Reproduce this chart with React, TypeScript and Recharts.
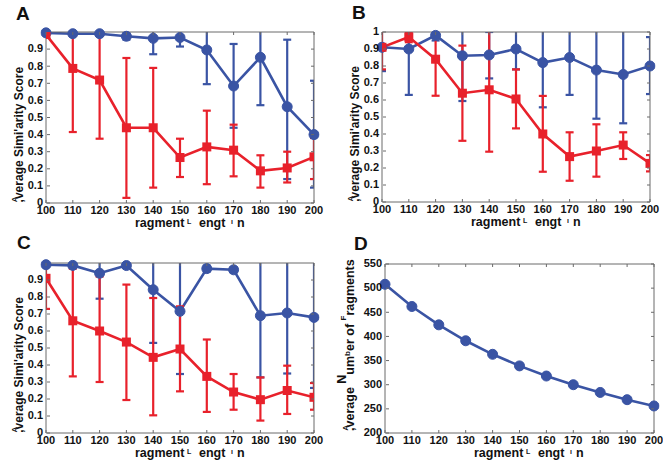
import React from 'react'
import { LineChart, Line, XAxis, YAxis, ErrorBar } from 'recharts'

const LENGTHS = [100, 110, 120, 130, 140, 150, 160, 170, 180, 190, 200]
const SCORE_TICKS = [0, 0.1, 0.2, 0.3, 0.4, 0.5, 0.6, 0.7, 0.8, 0.9]
const SCORE_TICKS_B = [0, 0.1, 0.2, 0.3, 0.4, 0.5, 0.6, 0.7, 0.8, 0.9, 1]
const COUNT_TICKS = [200, 250, 300, 350, 400, 450, 500, 550]

// panel A
const aBlue = [0.995, 0.99, 0.99, 0.975, 0.963, 0.968, 0.895, 0.684, 0.852, 0.563, 0.4]
const aBlueLo = [0.985, 0.98, 0.98, 0.955, 0.87, 0.915, 0.695, 0.44, 0.572, 0.14, 0.09]
const aBlueHi = [1.0, 1.0, 1.0, 1.0, 1.06, 1.02, 1.1, 0.93, 1.13, 0.955, 0.715]
const aRed = [0.985, 0.787, 0.719, 0.44, 0.44, 0.266, 0.328, 0.309, 0.188, 0.205, 0.27]
const aRedLo = [0.975, 0.415, 0.376, 0.03, 0.09, 0.152, 0.11, 0.156, 0.09, 0.12, 0.14]
const aRedHi = [0.995, 0.99, 0.99, 0.848, 0.79, 0.376, 0.54, 0.458, 0.279, 0.3, 0.38]

// panel B
const bBlue = [0.91, 0.9, 0.98, 0.86, 0.865, 0.9, 0.82, 0.85, 0.776, 0.75, 0.8]
const bBlueLo = [0.77, 0.63, 0.95, 0.594, 0.727, 0.78, 0.557, 0.63, 0.49, 0.463, 0.635]
const bBlueHi = [1.05, 1.17, 1.01, 1.13, 1.0, 1.02, 1.08, 1.07, 1.06, 1.04, 0.97]
const bRed = [0.91, 0.97, 0.84, 0.64, 0.66, 0.606, 0.4, 0.267, 0.3, 0.335, 0.227]
const bRedLo = [0.78, 0.94, 0.625, 0.36, 0.296, 0.433, 0.178, 0.125, 0.149, 0.253, 0.18]
const bRedHi = [1.05, 1.0, 1.05, 0.92, 1.02, 0.78, 0.624, 0.41, 0.457, 0.41, 0.276]

// panel C
const cBlue = [0.99, 0.986, 0.94, 0.985, 0.843, 0.716, 0.967, 0.96, 0.69, 0.706, 0.68]
const cBlueLo = [0.98, 0.97, 0.79, 0.97, 0.53, 0.347, 0.95, 0.945, 0.327, 0.35, 0.265]
const cBlueHi = [1.0, 1.0, 1.09, 1.0, 1.16, 1.09, 0.985, 0.975, 1.05, 1.06, 1.1]
const cRed = [0.91, 0.66, 0.6, 0.535, 0.445, 0.494, 0.333, 0.241, 0.196, 0.25, 0.21]
const cRedLo = [0.73, 0.333, 0.3, 0.194, 0.104, 0.245, 0.124, 0.137, 0.073, 0.112, 0.137]
const cRedHi = [1.09, 0.967, 0.92, 0.873, 0.794, 0.745, 0.55, 0.347, 0.327, 0.396, 0.294]

// panel D
const dCount = [508, 462, 424, 391, 363, 339, 318, 300, 284, 269, 256]

const BLUE = '#3a54a4'
const RED = '#e8212b'
const AXIS = '#6a6a6a'
const FONT = "'Liberation Sans', Arial, Helvetica, sans-serif"
const TICK_LEN = 3

type Rect = { x: number; y: number; w: number; h: number }
type Box = { x: number; y: number; w: number; h: number }

function errRows(
  blue: number[], blueLo: number[], blueHi: number[],
  red: number[], redLo: number[], redHi: number[],
) {
  return LENGTHS.map((len, i) => ({
    len,
    blue: blue[i],
    blueErr: [blue[i] - blueLo[i], blueHi[i] - blue[i]],
    red: red[i],
    redErr: [red[i] - redLo[i], redHi[i] - red[i]],
  }))
}

const LeftTick = (props: any) => {
  const { x, y, payload } = props
  return (
    <g>
      <line x1={x + 4} x2={x + 4 + TICK_LEN} y1={y} y2={y} stroke={AXIS} />
      <text x={x} y={y} dy="0.3em" textAnchor="end" fontSize={11} fontWeight="bold" fontFamily={FONT} fill="#111">
        {payload.value}
      </text>
    </g>
  )
}

const BottomTick = (props: any) => {
  const { x, y, payload } = props
  return (
    <g>
      <line x1={x} x2={x} y1={y - 3} y2={y - 3 - TICK_LEN} stroke={AXIS} />
      <text x={x} y={y} dy="0.71em" textAnchor="middle" fontSize={11} fontWeight="bold" fontFamily={FONT} fill="#111">
        {payload.value}
      </text>
    </g>
  )
}

const RightTick = (props: any) => {
  const { x, y } = props
  return <line x1={x - TICK_LEN} x2={x} y1={y} y2={y} stroke={AXIS} />
}

const TopTick = (props: any) => {
  const { x, y } = props
  return <line x1={x} x2={x} y1={y} y2={y + TICK_LEN} stroke={AXIS} />
}

const squareDot = (props: any) => {
  const { cx, cy, index } = props
  if (cx == null || cy == null) return <g key={`sq-${index}`} />
  return <rect key={`sq-${index}`} x={cx - 4.5} y={cy - 4.5} width={9} height={9} fill={RED} />
}

const circleDot = { r: 5, fill: BLUE, stroke: BLUE, strokeWidth: 1, clipDot: false }

function Panel({
  id, box, rect, data, yDomain, yTicks, withRed,
}: {
  id: string
  box: Box
  rect: Rect
  data: any[]
  yDomain: [number, number]
  yTicks: number[]
  withRed: boolean
}) {
  // axes are 1px thick so they get drawn; margins are trimmed to keep the plot box in place
  const margin = {
    left: rect.x - box.x - 1,
    top: rect.y - box.y - 1,
    right: box.x + box.w - (rect.x + rect.w) - 1,
    bottom: box.y + box.h - (rect.y + rect.h) - 1,
  }
  return (
    <div className={`panel-${id}`} style={{ position: 'absolute', left: box.x, top: box.y }}>
      <LineChart width={box.w} height={box.h} data={data} margin={margin}>
        <XAxis
          dataKey="len" type="number" domain={[100, 200]} ticks={LENGTHS} interval={0}
          allowDataOverflow height={1} tickSize={0} tickMargin={3} tickLine={false}
          axisLine={{ stroke: AXIS }} tick={BottomTick}
        />
        <XAxis
          xAxisId="top" orientation="top" dataKey="len" type="number" domain={[100, 200]}
          ticks={LENGTHS} interval={0} allowDataOverflow height={1} tickSize={0} tickMargin={0}
          tickLine={false} axisLine={{ stroke: AXIS }} tick={TopTick}
        />
        <YAxis
          type="number" domain={yDomain} ticks={yTicks} interval={0} allowDataOverflow
          width={1} tickSize={0} tickMargin={3} tickLine={false}
          axisLine={{ stroke: AXIS }} tick={LeftTick}
        />
        <YAxis
          yAxisId="right" orientation="right" type="number" domain={yDomain} ticks={yTicks}
          interval={0} allowDataOverflow width={1} tickSize={0} tickMargin={0}
          tickLine={false} axisLine={{ stroke: AXIS }} tick={RightTick}
        />
        <Line
          dataKey="blue" type="linear" stroke={BLUE} strokeWidth={2.6}
          dot={circleDot} activeDot={false} isAnimationActive={false}
        >
          {withRed && <ErrorBar dataKey="blueErr" direction="y" width={4} strokeWidth={2.2} stroke={BLUE} />}
        </Line>
        {withRed && (
          <Line
            dataKey="red" type="linear" stroke={RED} strokeWidth={2.6}
            dot={squareDot} activeDot={false} isAnimationActive={false}
          >
            <ErrorBar dataKey="redErr" direction="y" width={4} strokeWidth={2.2} stroke={RED} />
          </Line>
        )}
      </LineChart>
    </div>
  )
}

const BOX_A: Box = { x: 0, y: 0, w: 331, h: 230 }
const BOX_B: Box = { x: 331, y: 0, w: 332, h: 230 }
const BOX_C: Box = { x: 0, y: 230, w: 331, h: 231 }
const BOX_D: Box = { x: 331, y: 230, w: 332, h: 231 }

const RECT_A: Rect = { x: 46, y: 32, w: 268, h: 171 }
const RECT_B: Rect = { x: 382, y: 32, w: 268, h: 170 }
const RECT_C: Rect = { x: 46, y: 263, w: 268, h: 170 }
const RECT_D: Rect = { x: 385, y: 264, w: 269, h: 169 }

const titleStyle = { fontFamily: FONT, fontWeight: 'bold' as const, fill: '#111' }

// error bars run past the axes box, so clip them to it like the plot lines
function ErrorClip({ id, box, rect }: { id: string; box: Box; rect: Rect }) {
  return (
    <clipPath id={`clip-${id}`} clipPathUnits="userSpaceOnUse">
      <rect x={rect.x - box.x} y={rect.y - box.y} width={rect.w} height={rect.h} />
    </clipPath>
  )
}

const clipCss = ['A', 'B', 'C']
  .map((id) => `.panel-${id} .recharts-errorBars, .panel-${id} .recharts-errorBar { clip-path: url(#clip-${id}); }`)
  .join('\n')

function XTitle({ r }: { r: Rect }) {
  const b = r.y + r.h + 24
  return (
    <text y={b} fontSize={12.5} style={titleStyle}>
      <tspan x={r.x + 89}>ragment</tspan>
      <tspan x={r.x + 141} fontSize={7} dy={-3}>L</tspan>
      <tspan x={r.x + 153} dy={3}>engt</tspan>
      <tspan x={r.x + 185} fontSize={7} dy={-3}>ı</tspan>
      <tspan x={r.x + 191} dy={3}>n</tspan>
    </text>
  )
}

function ScoreTitle({ r }: { r: Rect }) {
  const x = r.x - 23
  const y = r.y + r.h * 0.6
  return (
    <text transform={`translate(${x},${y}) rotate(-90)`} textAnchor="middle" fontSize={12} style={titleStyle}>
      <tspan fontSize={8} dy={-6}>A</tspan>
      <tspan dx={-6} dy={6}>,</tspan>
      <tspan>verage Simi'arity Score</tspan>
    </text>
  )
}

function CountTitle({ r }: { r: Rect }) {
  const x = r.x - 31
  const y = r.y + r.h * 0.48
  return (
    <text transform={`translate(${x},${y}) rotate(-90)`} textAnchor="middle" fontSize={12.5} style={titleStyle}>
      <tspan fontSize={8} dy={-6}>A</tspan>
      <tspan dx={-6} dy={6}>,</tspan>
      <tspan>verage </tspan>
      <tspan dy={-8}>N</tspan>
      <tspan dy={8}>um</tspan>
      <tspan fontSize={8} dy={-4}>b</tspan>
      <tspan dy={4}>er of </tspan>
      <tspan fontSize={8} dy={-8}>F</tspan>
      <tspan dy={8}>ragments</tspan>
    </text>
  )
}

const dataA = errRows(aBlue, aBlueLo, aBlueHi, aRed, aRedLo, aRedHi)
const dataB = errRows(bBlue, bBlueLo, bBlueHi, bRed, bRedLo, bRedHi)
const dataC = errRows(cBlue, cBlueLo, cBlueHi, cRed, cRedLo, cRedHi)
const dataD = LENGTHS.map((len, i) => ({ len, blue: dCount[i] }))

export default function App() {
  return (
    <div style={{ position: 'absolute', left: 0, top: 0, width: 663, height: 461, background: '#fff', overflow: 'hidden' }}>
      <style>{clipCss}</style>
      <svg width={0} height={0} style={{ position: 'absolute' }}>
        <defs>
          <ErrorClip id="A" box={BOX_A} rect={RECT_A} />
          <ErrorClip id="B" box={BOX_B} rect={RECT_B} />
          <ErrorClip id="C" box={BOX_C} rect={RECT_C} />
        </defs>
      </svg>
      <Panel id="A" box={BOX_A} rect={RECT_A} data={dataA} yDomain={[0, 1]} yTicks={SCORE_TICKS} withRed />
      <Panel id="B" box={BOX_B} rect={RECT_B} data={dataB} yDomain={[0, 1]} yTicks={SCORE_TICKS_B} withRed />
      <Panel id="C" box={BOX_C} rect={RECT_C} data={dataC} yDomain={[0, 1]} yTicks={SCORE_TICKS} withRed />
      <Panel id="D" box={BOX_D} rect={RECT_D} data={dataD} yDomain={[200, 550]} yTicks={COUNT_TICKS} withRed={false} />
      <svg width={663} height={461} style={{ position: 'absolute', left: 0, top: 0, pointerEvents: 'none' }}>
        <g style={titleStyle} fontSize={19}>
          <text x={RECT_A.x - 30} y={RECT_A.y - 12}>A</text>
          <text x={RECT_B.x - 30} y={RECT_B.y - 13}>B</text>
          <text x={RECT_C.x - 29} y={RECT_C.y - 14}>C</text>
          <text x={RECT_D.x - 31} y={RECT_D.y - 14}>D</text>
        </g>
        <ScoreTitle r={RECT_A} />
        <ScoreTitle r={RECT_B} />
        <ScoreTitle r={RECT_C} />
        <CountTitle r={RECT_D} />
        <XTitle r={RECT_A} />
        <XTitle r={RECT_B} />
        <XTitle r={RECT_C} />
        <XTitle r={RECT_D} />
      </svg>
    </div>
  )
}
